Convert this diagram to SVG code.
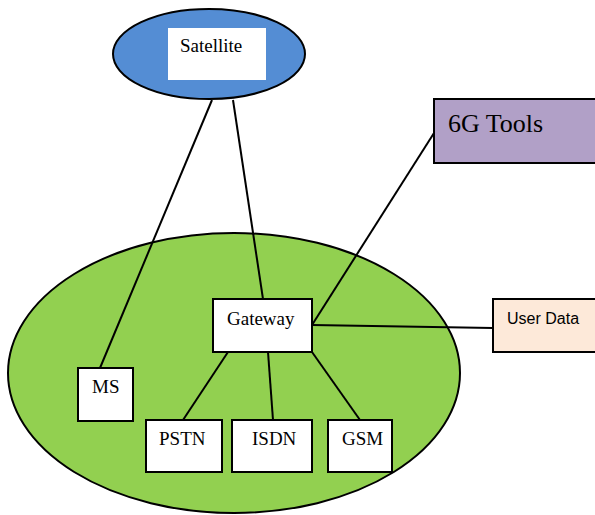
<svg xmlns="http://www.w3.org/2000/svg" width="595" height="515" viewBox="0 0 595 515">
<style>
.box{stroke:#000;stroke-width:2}
.w{fill:#fff}
.t{font-family:"Liberation Serif","Times New Roman",serif;font-size:19px;fill:#000}
.s{font-family:"Liberation Sans",Arial,sans-serif;font-size:16px;fill:#000}
.c{stroke:#000;stroke-width:2;fill:none}
</style>
<rect width="595" height="515" fill="#fff"/>
<g id="network">
<ellipse cx="234" cy="373" rx="226" ry="140" fill="#92d050" stroke="#000" stroke-width="2"/>
</g>
<g id="satellite">
<ellipse cx="209" cy="54" rx="96" ry="45" fill="#548dd4" stroke="#000" stroke-width="2"/>
<rect x="168" y="28" width="98" height="52" fill="#fff"/>
<text class="t" x="180" y="52">Satellite</text>
</g>
<g id="connectors">
<line class="c" x1="212" y1="100" x2="100" y2="368"/>
<line class="c" x1="233" y1="100" x2="263" y2="299"/>
<line class="c" x1="434" y1="133" x2="312" y2="325"/>
<line class="c" x1="312" y1="325" x2="493" y2="328"/>
<line class="c" x1="228" y1="352" x2="183" y2="420"/>
<line class="c" x1="268" y1="352" x2="273" y2="420"/>
<line class="c" x1="312" y1="352" x2="360" y2="420"/>
</g>
<g id="tools6g">
<rect class="box" x="434" y="99" width="162" height="64" fill="#b1a0c7"/>
<text class="t" x="448" y="132" style="font-size:26px">6G Tools</text>
</g>
<g id="gateway">
<rect class="box w" x="213" y="299" width="99" height="53"/>
<text class="t" x="227" y="325">Gateway</text>
</g>
<g id="userdata">
<rect class="box" x="493" y="299" width="103" height="53" fill="#fde9d9"/>
<text class="s" x="507" y="324">User Data</text>
</g>
<g id="ms">
<rect class="box w" x="78" y="368" width="55" height="53"/>
<text class="t" x="92" y="393">MS</text>
</g>
<g id="pstn">
<rect class="box w" x="146" y="420" width="76" height="52"/>
<text class="t" x="159" y="445">PSTN</text>
</g>
<g id="isdn">
<rect class="box w" x="232" y="420" width="80" height="52"/>
<text class="t" x="252" y="445">ISDN</text>
</g>
<g id="gsm">
<rect class="box w" x="328" y="420" width="64" height="52"/>
<text class="t" x="342" y="445">GSM</text>
</g>
</svg>
